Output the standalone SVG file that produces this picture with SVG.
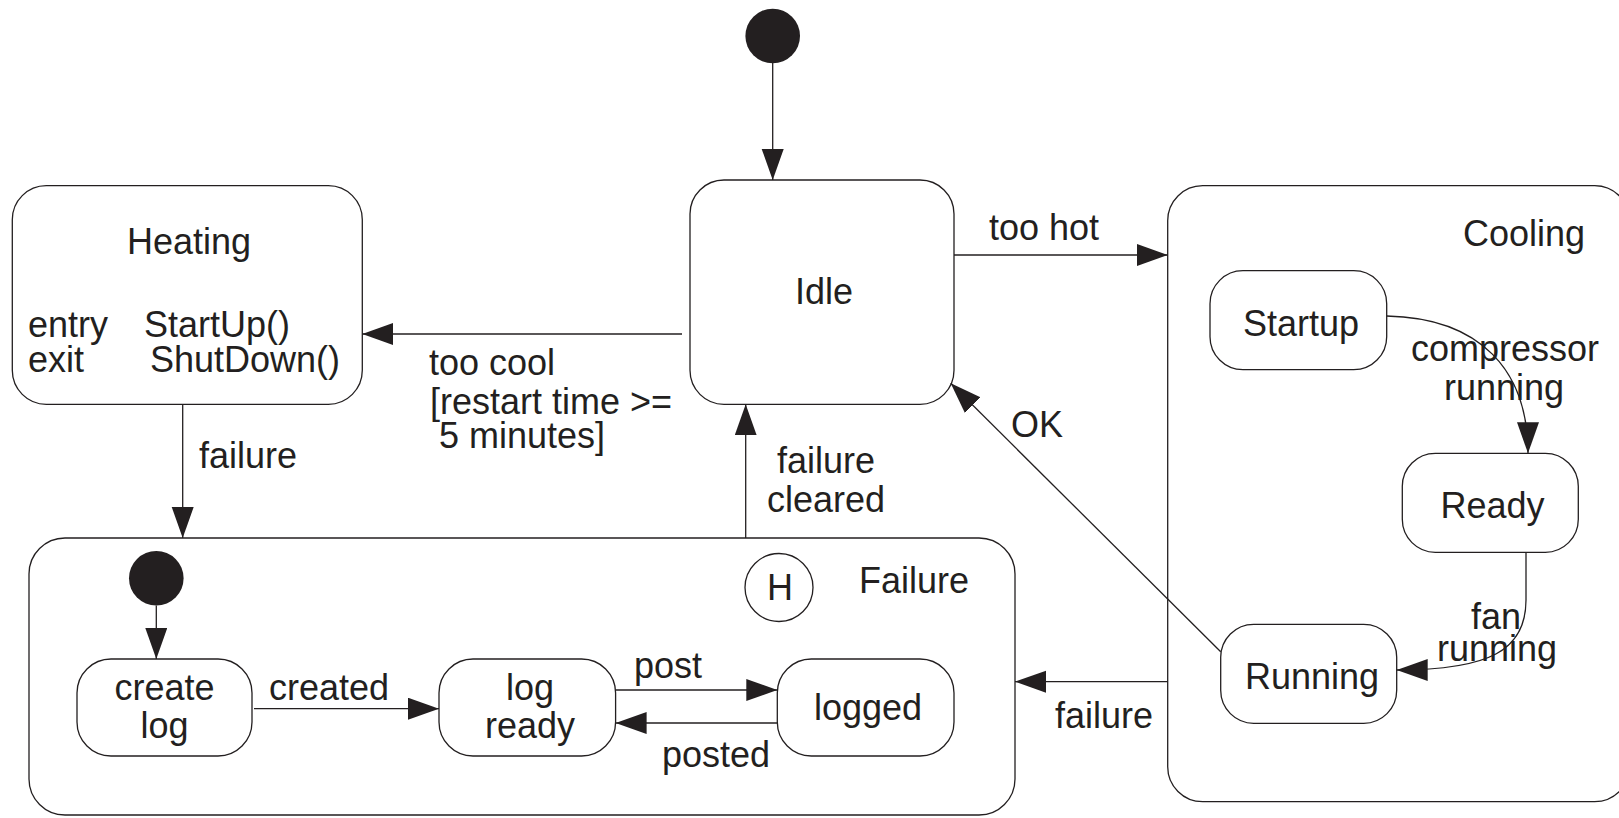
<svg xmlns="http://www.w3.org/2000/svg" width="1619" height="818" viewBox="0 0 1619 818">
<style>
.box{fill:#fff;stroke:#231f20;stroke-width:1.3}
.ln{fill:none;stroke:#231f20;stroke-width:1.3}
.init{fill:#231f20}
text{font-family:"Liberation Sans",Arial,Helvetica,sans-serif;font-size:36px;fill:#231f20}
.m{text-anchor:middle}
</style>
<defs>
<marker id="ah" markerUnits="userSpaceOnUse" markerWidth="32" markerHeight="23" refX="31" refY="11" orient="auto">
<path d="M0,0 L31,11 L0,22 Z" fill="#231f20"/>
</marker>
</defs>
<rect width="1619" height="818" fill="#fff"/>

<g id="cooling">
<rect class="box" x="1167.7" y="185.7" width="462" height="616" rx="35" ry="35"/>
<text x="1463" y="246">Cooling</text>
</g>
<g id="failure">
<rect class="box" x="29" y="538" width="986" height="277" rx="36" ry="36"/>
<text x="859" y="593">Failure</text>
</g>
<g id="heating">
<rect class="box" x="12.3" y="185.7" width="350" height="218.6" rx="34" ry="34"/>
<text class="m" x="189" y="254">Heating</text>
<text x="28" y="337">entry</text>
<text x="144" y="337">StartUp()</text>
<text x="28" y="372">exit</text>
<text x="150" y="372">ShutDown()</text>
</g>
<g id="idle">
<rect class="box" x="690" y="180" width="264" height="224.3" rx="34" ry="34"/>
<text class="m" x="824" y="304">Idle</text>
</g>
<g id="initial">
<circle class="init" cx="772.7" cy="36" r="27.3"/>
</g>
<g id="startup">
<rect class="box" x="1210" y="270.7" width="176.7" height="99" rx="33" ry="33"/>
<text class="m" x="1301" y="336">Startup</text>
</g>
<g id="ready">
<rect class="box" x="1402.3" y="453.3" width="176" height="99" rx="33" ry="33"/>
<text class="m" x="1492.5" y="518">Ready</text>
</g>
<g id="running">
<rect class="box" x="1220.7" y="624.3" width="176" height="99" rx="33" ry="33"/>
<text class="m" x="1312" y="689">Running</text>
</g>
<g id="failure-initial">
<circle class="init" cx="156.3" cy="578.3" r="27.3"/>
</g>
<g id="history">
<circle class="box" cx="779" cy="587.5" r="34"/>
<text class="m" x="780" y="600">H</text>
</g>
<g id="create-log">
<rect class="box" x="77" y="659" width="175" height="97" rx="34" ry="34"/>
<text class="m" x="164.5" y="700">create</text>
<text class="m" x="164.5" y="738">log</text>
</g>
<g id="log-ready">
<rect class="box" x="439" y="659" width="176.6" height="97" rx="34" ry="34"/>
<text class="m" x="530" y="700">log</text>
<text class="m" x="530" y="738">ready</text>
</g>
<g id="logged">
<rect class="box" x="777.3" y="659" width="176.7" height="97" rx="34" ry="34"/>
<text class="m" x="868" y="720">logged</text>
</g>

<g id="connectors">
<line class="ln" x1="772.7" y1="63" x2="772.7" y2="180" marker-end="url(#ah)"/>
<line class="ln" x1="954" y1="255" x2="1167.7" y2="255" marker-end="url(#ah)"/>
<text x="989" y="240">too hot</text>
<line class="ln" x1="682" y1="334" x2="362.3" y2="334" marker-end="url(#ah)"/>
<text x="429" y="375">too cool</text>
<text x="430" y="414">[restart time &gt;=</text>
<text x="439" y="448">5 minutes]</text>
<line class="ln" x1="182.7" y1="404.3" x2="182.7" y2="538" marker-end="url(#ah)"/>
<text x="199" y="468">failure</text>
<line class="ln" x1="745.7" y1="538" x2="745.7" y2="404.3" marker-end="url(#ah)"/>
<text class="m" x="826" y="473">failure</text>
<text class="m" x="826" y="512">cleared</text>
<line class="ln" x1="1220.7" y1="651.7" x2="950.7" y2="383.3" marker-end="url(#ah)"/>
<text x="1011" y="437">OK</text>
<path class="ln" d="M1386.7,316 C1480,318 1528,370 1528,453.3" marker-end="url(#ah)"/>
<text class="m" x="1505" y="361">compressor</text>
<text class="m" x="1504" y="400">running</text>
<path class="ln" d="M1526,552.3 L1526,600 C1526,650 1490,670 1396.7,670" marker-end="url(#ah)"/>
<text class="m" x="1496" y="629">fan</text>
<text class="m" x="1497" y="661">running</text>
<line class="ln" x1="1167.7" y1="681.7" x2="1015" y2="681.7" marker-end="url(#ah)"/>
<text class="m" x="1104" y="728">failure</text>
<line class="ln" x1="156.3" y1="605.6" x2="156.3" y2="659" marker-end="url(#ah)"/>
<line class="ln" x1="254" y1="708.7" x2="439" y2="708.7" marker-end="url(#ah)"/>
<text x="269" y="700">created</text>
<line class="ln" x1="615.6" y1="690" x2="777.3" y2="690" marker-end="url(#ah)"/>
<text x="634" y="678">post</text>
<line class="ln" x1="777.3" y1="723" x2="615.6" y2="723" marker-end="url(#ah)"/>
<text x="662" y="767">posted</text>
</g>
</svg>
